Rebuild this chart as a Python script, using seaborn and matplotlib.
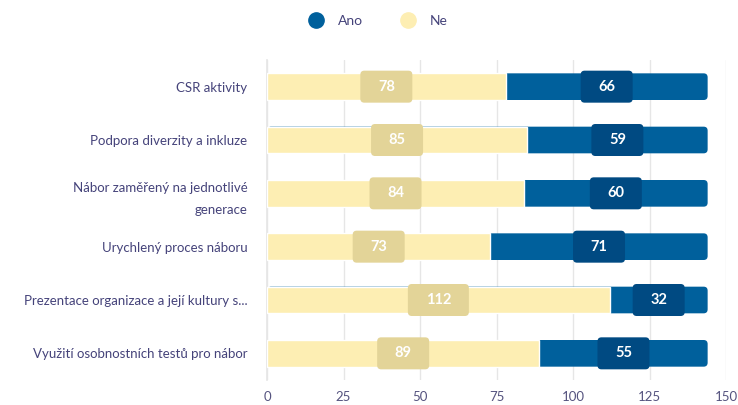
import matplotlib
matplotlib.use("Agg")
import matplotlib.pyplot as plt
from matplotlib.lines import Line2D
from matplotlib.patches import FancyBboxPatch
import seaborn as sns
import pandas as pd

categories = [
    "CSR aktivity",
    "Podpora diverzity a inkluze",
    "Nábor zaměřený na jednotlivé\ngenerace",
    "Urychlený proces náboru",
    "Prezentace organizace a její kultury s...",
    "Využití osobnostních testů pro nábor",
]
ne_values = [78, 85, 84, 73, 112, 89]
ano_values = [66, 59, 60, 71, 32, 55]
x_ticks = [0, 25, 50, 75, 100, 125, 150]

ANO = "#00609C"
ANO_DARK = "#004A82"
NE = "#FDEEB3"
NE_DARK = "#E3D498"
TEXT = "#45437A"
TICK = "#55537F"
GRID = "#E6E6E6"

sns.set_theme(style="white")
plt.rcParams["font.family"] = ["Lato", "DejaVu Sans"]

df = pd.DataFrame({
    "kategorie": categories,
    "Ne": ne_values,
    "Ano": ano_values,
})
df["celkem"] = df["Ne"] + df["Ano"]

W, H = 738, 405
fig = plt.figure(figsize=(W / 100, H / 100), dpi=100)
ax_left, ax_right, ax_top, ax_bottom = 267, 726, 60, 380
ax = fig.add_axes([ax_left / W, 1 - ax_bottom / H,
                   (ax_right - ax_left) / W, (ax_bottom - ax_top) / H])

XMAX = 150
px_per_x = (ax_right - ax_left) / XMAX
px_per_y = (ax_bottom - ax_top) / 6.0
aspect = px_per_x / px_per_y

# stacked bars: total in blue, "Ne" part drawn over it
sns.barplot(data=df, y="kategorie", x="celkem", color=ANO, orient="h",
            width=0.5, ax=ax, saturation=1, zorder=2)
blue_bars = list(ax.patches)
sns.barplot(data=df, y="kategorie", x="Ne", color=NE, orient="h",
            width=0.5, ax=ax, saturation=1, zorder=3)

# give the total bars a softly rounded right end
for bar in blue_bars:
    x0, y0 = bar.get_x(), bar.get_y()
    w, h = bar.get_width(), bar.get_height()
    bar.set_visible(False)
    ax.add_patch(FancyBboxPatch((x0, y0), w, h,
                                boxstyle=f"round,pad=0,rounding_size={4 / px_per_x}",
                                mutation_aspect=aspect,
                                fc=ANO, ec="none", zorder=2))


def value_badge(xc, yc, value, face):
    text = f"{value}"
    w_px = 52 + (len(text) - 2) * 9
    h_px = 32
    w = w_px / px_per_x
    h = h_px / px_per_y
    box = FancyBboxPatch((xc - w / 2, yc - h / 2), w, h,
                         boxstyle=f"round,pad=0,rounding_size={4 / px_per_x}",
                         mutation_aspect=aspect,
                         fc=face, ec="none", zorder=4)
    ax.add_patch(box)
    ax.text(xc, yc, text, ha="center", va="center", color="white",
            fontsize=10.5, fontweight="bold", zorder=5)


for i, (ne, ano) in enumerate(zip(ne_values, ano_values)):
    value_badge(ne / 2, i, ne, NE_DARK)
    value_badge(ne + ano / 2, i, ano, ANO_DARK)

ax.set_xlim(0, XMAX)
ax.set_ylim(5.5, -0.5)
ax.set_xticks(x_ticks)
ax.set_xticklabels([str(t) for t in x_ticks])
ax.xaxis.grid(True, color=GRID, linewidth=1, zorder=0)
ax.set_axisbelow(True)
ax.set_xlabel("")
ax.set_ylabel("")
for s in ["top", "right", "bottom"]:
    ax.spines[s].set_visible(False)
ax.spines["left"].set_color(GRID)
ax.tick_params(axis="x", colors=TICK, labelsize=9.5, length=0, pad=8)
ax.tick_params(axis="y", colors=TEXT, labelsize=9.5, length=0, pad=14)
for lab in ax.get_yticklabels():
    lab.set_linespacing(2.0)

handles = [
    Line2D([], [], marker="o", linestyle="none", markersize=11,
           markerfacecolor=ANO, markeredgecolor=ANO, label="Ano"),
    Line2D([], [], marker="o", linestyle="none", markersize=11,
           markerfacecolor=NE, markeredgecolor=NE, label="Ne"),
]
leg = fig.legend(handles=handles, loc="center", bbox_to_anchor=(375 / W, 1 - 21 / H),
                 ncol=2, frameon=False, fontsize=10, handletextpad=0.6,
                 columnspacing=2.2)
for t in leg.get_texts():
    t.set_color(TEXT)

fig.savefig("out.png", dpi=100)
